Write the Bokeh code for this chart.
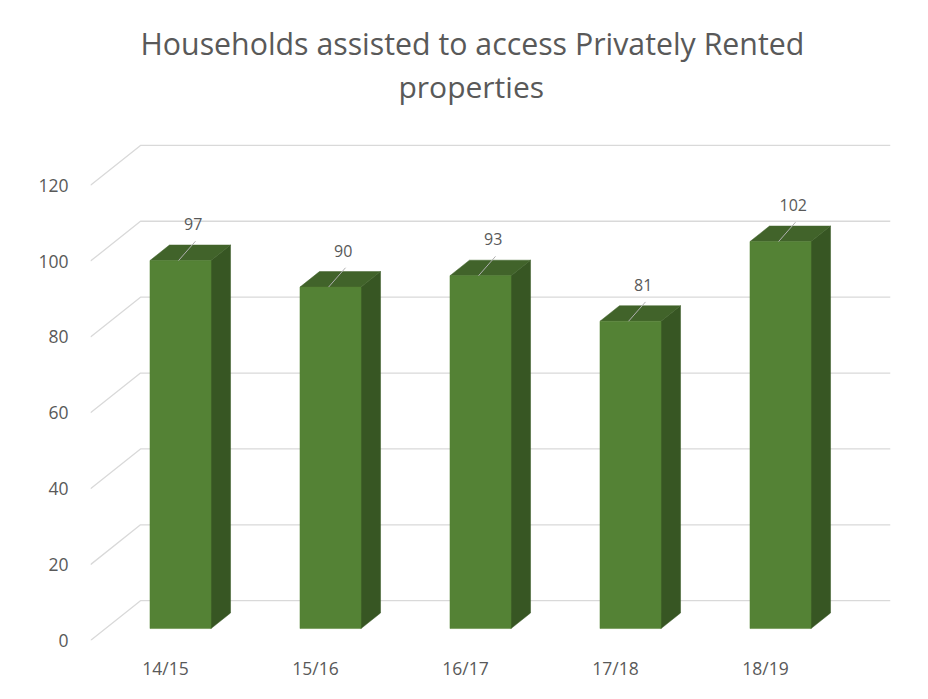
from bokeh.plotting import figure
from bokeh.models import Range1d, FixedTicker, Title
from bokeh.core.properties import value
from bokeh.embed import file_html
from bokeh.resources import INLINE

# ---- data ----
categories = ["14/15", "15/16", "16/17", "17/18", "18/19"]
values = [97, 90, 93, 81, 102]
y_ticks = [0, 20, 40, 60, 80, 100, 120]
title_lines = ["Households assisted to access Privately Rented", "properties"]

# ---- style constants (3-D projection) ----
DEPTH_X = 1.0 / 3.0     # x shift of back wall (data units)
DEPTH_Y = 10.5          # y shift of back wall (data units)
F_FRONT = 0.30          # depth fraction of bar front face
F_BACK = 0.69           # depth fraction of bar back face
BAR_W = 0.407
FRONT = "#548235"
SIDE = "#375623"
TOP = "#41632a"
GRID = "#d9d9d9"
TXT = "#595959"
FONT = "Open Sans"

x0, x1 = -0.5, len(categories) - 0.5 + DEPTH_X
p = figure(frame_width=800, frame_height=497,
           min_border_left=90, min_border_right=30,
           min_border_top=143, min_border_bottom=51,
           x_range=Range1d(x0, x1), y_range=Range1d(0, 131),
           output_backend="svg", toolbar_location=None, title=None)
p.outline_line_color = None
p.xgrid.visible = False
p.ygrid.visible = False
p.background_fill_color = "white"
p.border_fill_color = "white"

# gridlines: diagonal on side wall + horizontal on back wall
gxs, gys = [], []
for t in y_ticks:
    gxs.append([x0, x0 + DEPTH_X, x1])
    gys.append([t, t + DEPTH_Y, t + DEPTH_Y])
p.multi_line(gxs, gys, line_color=GRID, line_width=1.3)

# bars
fx, fy, sx, sy, tx, ty = [], [], [], [], [], []
ddx = (F_BACK - F_FRONT) * DEPTH_X
ddy = (F_BACK - F_FRONT) * DEPTH_Y
for i, v in enumerate(values):
    cx = i + F_FRONT * DEPTH_X
    b = F_FRONT * DEPTH_Y
    xl, xr = cx - BAR_W / 2, cx + BAR_W / 2
    top = v + b
    fx.append([xl, xr, xr, xl]); fy.append([b, b, top, top])
    sx.append([xr, xr + ddx, xr + ddx, xr]); sy.append([b, b + ddy, top + ddy, top])
    tx.append([xl, xr, xr + ddx, xl + ddx]); ty.append([top, top, top + ddy, top + ddy])
p.patches(sx, sy, fill_color=SIDE, line_color=SIDE, line_width=0.5)
p.patches(tx, ty, fill_color=TOP, line_color=TOP, line_width=0.5)
p.patches(fx, fy, fill_color=FRONT, line_color=FRONT, line_width=0.5)

# data labels with leader lines
lxs, lys, labx, laby, labt = [], [], [], [], []
for i, v in enumerate(values):
    cx = i + F_FRONT * DEPTH_X
    top = v + F_FRONT * DEPTH_Y
    lxs.append([cx - 0.013, cx + 0.1]); lys.append([top, top + 5.1])
    labx.append(cx + 0.085); laby.append(top + 9.6); labt.append(str(v))
p.multi_line(lxs, lys, line_color="#b0b0b0", line_width=1)
p.text(labx, laby, text=labt, text_align="center", text_baseline="middle",
       text_font=value(FONT), text_font_size="16px", text_color=TXT)

# axes
p.yaxis.ticker = FixedTicker(ticks=y_ticks)
p.xaxis.ticker = FixedTicker(ticks=list(range(len(categories))))
p.xaxis.major_label_overrides = {i: c for i, c in enumerate(categories)}
for ax in (p.xaxis[0], p.yaxis[0]):
    ax.axis_line_color = None
    ax.major_tick_line_color = None
    ax.minor_tick_line_color = None
    ax.major_tick_out = 0
    ax.major_tick_in = 0
    ax.major_label_text_font = FONT
    ax.major_label_text_font_size = "17.5px"
    ax.major_label_text_color = TXT
p.yaxis.major_label_standoff = 22
p.xaxis.major_label_standoff = 15

# title: spacer + two lines stacked above the plot area
p.add_layout(Title(text=" ", text_font_size="1px", standoff=34), "above")
p.add_layout(Title(text=title_lines[1], align="left", offset=308, standoff=0,
                   text_font=FONT, text_font_size="30px", text_font_style="normal",
                   text_color=TXT), "above")
p.add_layout(Title(text=title_lines[0], align="left", offset=50, standoff=0,
                   text_font=FONT, text_font_size="30.3px", text_font_style="normal",
                   text_color=TXT), "above")

open("out.html", "w").write(file_html(p, INLINE))
